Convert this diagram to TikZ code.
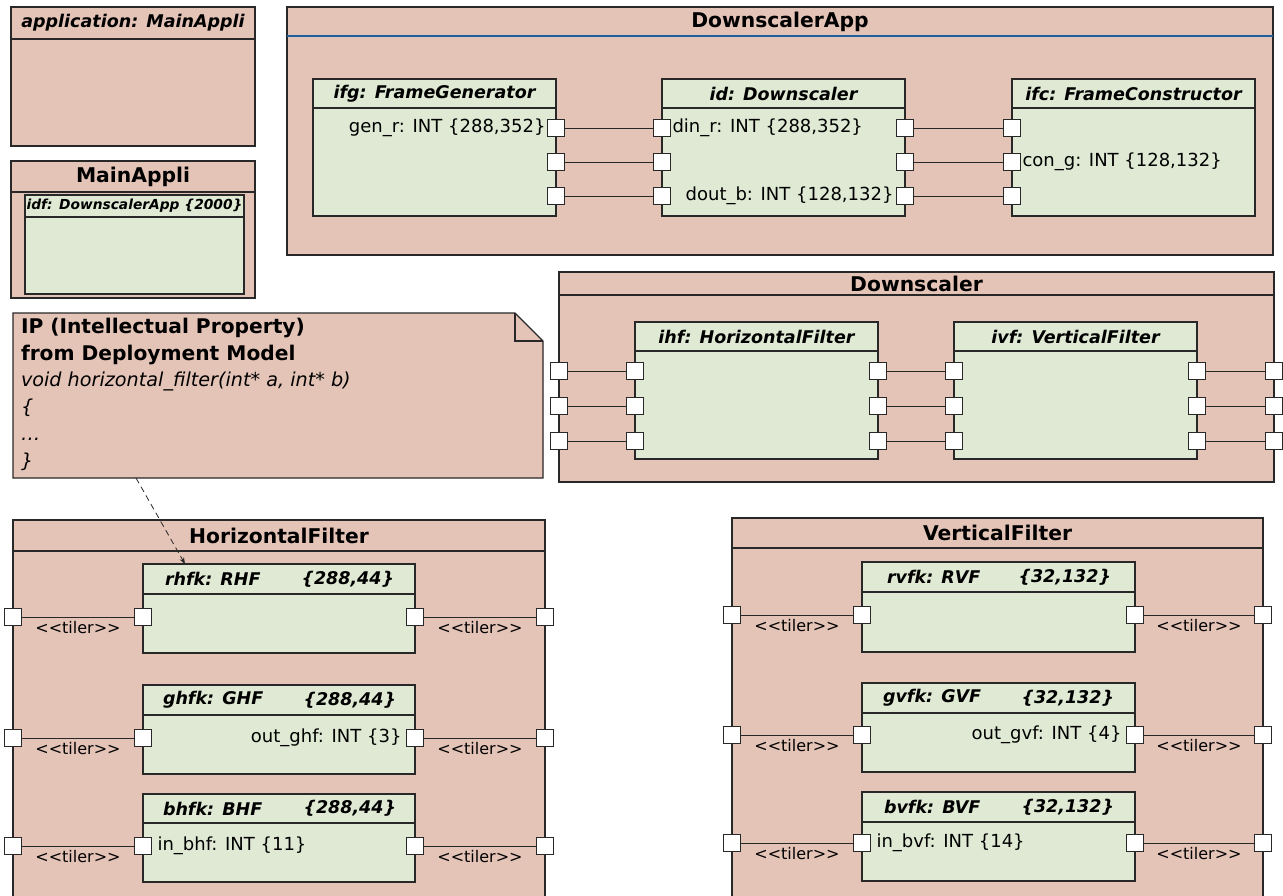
\documentclass[tikz,border=0pt]{standalone}
\usepackage{fontspec}
\setmainfont{DejaVu Sans}
\usepackage{xcolor}
\usetikzlibrary{arrows.meta,positioning}

\definecolor{framepink}{RGB}{229,196,184}
\definecolor{partgreen}{RGB}{223,233,211}
\definecolor{sepblue}{RGB}{30,95,160}
\definecolor{edgegray}{RGB}{40,40,40}
\newcommand{\tilerlbl}{<\kern0pt<tiler>\kern0pt>}

\begin{document}
\begin{tikzpicture}[
    x=1pt, y=-1pt,
    >=Stealth,
    every node/.style={inner sep=0pt, outer sep=0pt, font=\fontsize{18}{22}\selectfont},
    framebox/.style={draw=edgegray, fill=framepink, line width=1.1pt},
    partbox/.style={draw=edgegray, fill=partgreen, line width=1.1pt},
    portsq/.style={draw=edgegray, fill=white, line width=1pt, minimum size=17pt},
    wire/.style={draw=edgegray, line width=1pt},
    ttl/.style={font=\fontsize{20.3}{24}\selectfont\bfseries},
    hdr/.style={font=\fontsize{17.5}{21}\selectfont\bfseries\itshape},
    tiler/.style={font=\fontsize{16}{19}\selectfont, below=4pt}
]
\useasboundingbox (0,0) rectangle (1283,895);
\clip (0,0) rectangle (1283,895);

% application and MainAppli
\node[framebox, hdr, anchor=north west, minimum width=244pt, minimum height=32pt] (apphd)
at (11,7) {application: MainAppli};
\node[framebox, minimum width=244pt, minimum height=107pt, below=0pt of apphd] (app) {};

\node[framebox, ttl, anchor=north west, minimum width=244pt, minimum height=31pt] (mainhd)
at (11,161) {MainAppli};
\node[framebox, minimum width=244pt, minimum height=106pt, below=0pt of mainhd] (main) {};
\node[partbox, font=\fontsize{13.8}{16}\selectfont\bfseries\itshape, below right=3pt and 14pt of mainhd.south west,
minimum width=219pt, minimum height=22pt] (idfhd) {idf: DownscalerApp \{2000\}};
\node[partbox, minimum width=219pt, minimum height=77pt, below=0pt of idfhd] (idf) {};

% DownscalerApp
\node[framebox, ttl, anchor=north west, minimum width=986pt, minimum height=29pt] (dsahd)
at (287,7) {DownscalerApp};
\node[framebox, minimum width=986pt, minimum height=219pt, below=0pt of dsahd] (dsa) {};
\draw[sepblue, line width=1.1pt] (dsahd.south west) -- (dsahd.south east);

\node[partbox, hdr, anchor=north west, minimum width=243pt, minimum height=29pt] (ifghd)
at (313,79) {ifg: FrameGenerator};
\node[partbox, minimum width=243pt, minimum height=108pt, below=0pt of ifghd] (ifg) {};
\node[partbox, hdr, anchor=north west, minimum width=243pt, minimum height=29pt] (idhd)
at (662,79) {id: Downscaler};
\node[partbox, minimum width=243pt, minimum height=108pt, below=0pt of idhd] (id) {};
\node[partbox, hdr, anchor=north west, minimum width=243pt, minimum height=29pt] (ifchd)
at (1012,79) {ifc: FrameConstructor};
\node[partbox, minimum width=243pt, minimum height=108pt, below=0pt of ifchd] (ifc) {};

\coordinate (ra) at (0,128);
\coordinate (rb) at (0,162);
\coordinate (rc) at (0,196);

\node[portsq] (ifga) at (ifg.east |- ra) {};
\node[portsq] (ifgb) at (ifg.east |- rb) {};
\node[portsq] (ifgc) at (ifg.east |- rc) {};
\node[portsq] (idla) at (id.west |- ra) {};
\node[portsq] (idlb) at (id.west |- rb) {};
\node[portsq] (idlc) at (id.west |- rc) {};
\node[portsq] (idra) at (id.east |- ra) {};
\node[portsq] (idrb) at (id.east |- rb) {};
\node[portsq] (idrc) at (id.east |- rc) {};
\node[portsq] (ifca) at (ifc.west |- ra) {};
\node[portsq] (ifcb) at (ifc.west |- rb) {};
\node[portsq] (ifcc) at (ifc.west |- rc) {};

\draw[wire] (ifga) -- (idla);
\draw[wire] (ifgb) -- (idlb);
\draw[wire] (ifgc) -- (idlc);
\draw[wire] (idra) -- (ifca);
\draw[wire] (idrb) -- (ifcb);
\draw[wire] (idrc) -- (ifcc);

\node[left=2pt of ifga] (genr) {gen\_r: INT \{288,352\}};
\node[right=2pt of idla] (dinr) {din\_r: INT \{288,352\}};
\node[left=3pt of idrc] (doutb) {dout\_b: INT \{128,132\}};
\node[right=2pt of ifcb] (cong) {con\_g: INT \{128,132\}};

% Downscaler
\node[framebox, ttl, anchor=north west, minimum width=715pt, minimum height=23pt] (dschd)
at (559,272) {Downscaler};
\node[framebox, minimum width=715pt, minimum height=187pt, below=0pt of dschd] (dsc) {};

\node[partbox, hdr, anchor=north west, minimum width=243pt, minimum height=29pt] (ihfhd)
at (635,322) {ihf: HorizontalFilter};
\node[partbox, minimum width=243pt, minimum height=108pt, below=0pt of ihfhd] (ihf) {};
\node[partbox, hdr, anchor=north west, minimum width=243pt, minimum height=29pt] (ivfhd)
at (954,322) {ivf: VerticalFilter};
\node[partbox, minimum width=243pt, minimum height=108pt, below=0pt of ivfhd] (ivf) {};

\coordinate (sa) at (0,371);
\coordinate (sb) at (0,406);
\coordinate (sc) at (0,441);

\node[portsq] (dsca) at (dsc.west |- sa) {};
\node[portsq] (dscb) at (dsc.west |- sb) {};
\node[portsq] (dscc) at (dsc.west |- sc) {};
\node[portsq] (ihfla) at (ihf.west |- sa) {};
\node[portsq] (ihflb) at (ihf.west |- sb) {};
\node[portsq] (ihflc) at (ihf.west |- sc) {};
\node[portsq] (ihfra) at (ihf.east |- sa) {};
\node[portsq] (ihfrb) at (ihf.east |- sb) {};
\node[portsq] (ihfrc) at (ihf.east |- sc) {};
\node[portsq] (ivfla) at (ivf.west |- sa) {};
\node[portsq] (ivflb) at (ivf.west |- sb) {};
\node[portsq] (ivflc) at (ivf.west |- sc) {};
\node[portsq] (ivfra) at (ivf.east |- sa) {};
\node[portsq] (ivfrb) at (ivf.east |- sb) {};
\node[portsq] (ivfrc) at (ivf.east |- sc) {};
\node[portsq] (dscra) at (dsc.east |- sa) {};
\node[portsq] (dscrb) at (dsc.east |- sb) {};
\node[portsq] (dscrc) at (dsc.east |- sc) {};

\draw[wire] (dsca) -- (ihfla);
\draw[wire] (dscb) -- (ihflb);
\draw[wire] (dscc) -- (ihflc);
\draw[wire] (ihfra) -- (ivfla);
\draw[wire] (ihfrb) -- (ivflb);
\draw[wire] (ihfrc) -- (ivflc);
\draw[wire] (ivfra) -- (dscra);
\draw[wire] (ivfrb) -- (dscrb);
\draw[wire] (ivfrc) -- (dscrc);

% IP note
\node[anchor=north west, minimum width=530pt, minimum height=165pt] (note) at (13,313) {};
\draw[framebox] (note.north west) -- ([xshift=-28pt]note.north east)
  -- ([yshift=-28pt]note.north east) -- (note.south east) -- (note.south west) -- cycle;
\draw[edgegray, line width=1.1pt] ([xshift=-28pt]note.north east) |- ([yshift=-28pt]note.north east);
\node[align=left, font=\fontsize{19.2}{26.8}\selectfont, below right=5pt and 8pt of note.north west] (notetxt)
{{\fontsize{20.2}{26.8}\selectfont\bfseries IP (Intellectual Property)}\\
{\fontsize{20.2}{26.8}\selectfont\bfseries from Deployment Model}\\
\textit{void horizontal\_filter(int* a, int* b)}\\
\textit{\{}\\
\textit{\ldots}\\
\textit{\}}};

% HorizontalFilter
\node[framebox, ttl, anchor=north west, minimum width=532pt, minimum height=31pt] (hfhd)
at (13,520) {HorizontalFilter};
\node[framebox, minimum width=532pt, minimum height=390pt, below=0pt of hfhd] (hf) {};

\node[partbox, anchor=north west, minimum width=272pt, minimum height=30pt] (rhfkhd) at (143,564) {};
\node[partbox, minimum width=272pt, minimum height=59pt, below=0pt of rhfkhd] (rhfk) {};
\node[partbox, anchor=north west, minimum width=272pt, minimum height=30pt] (ghfkhd) at (143,685) {};
\node[partbox, minimum width=272pt, minimum height=59pt, below=0pt of ghfkhd] (ghfk) {};
\node[partbox, anchor=north west, minimum width=272pt, minimum height=29pt] (bhfkhd) at (143,794) {};
\node[partbox, minimum width=272pt, minimum height=59pt, below=0pt of bhfkhd] (bhfk) {};

\node[hdr, right=22pt of rhfkhd.west] (rhfkname) {rhfk: RHF};
\node[hdr, left=21pt of rhfkhd.east] (rhfksize) {\{288,44\}};
\node[hdr, right=20pt of ghfkhd.west] (ghfkname) {ghfk: GHF};
\node[hdr, left=19pt of ghfkhd.east] (ghfksize) {\{288,44\}};
\node[hdr, right=20pt of bhfkhd.west] (bhfkname) {bhfk: BHF};
\node[hdr, left=19pt of bhfkhd.east] (bhfksize) {\{288,44\}};

\coordinate (ha) at (0,617);
\coordinate (hb) at (0,738);
\coordinate (hc) at (0,846);

\node[portsq] (hfla) at (hf.west |- ha) {};
\node[portsq] (hflb) at (hf.west |- hb) {};
\node[portsq] (hflc) at (hf.west |- hc) {};
\node[portsq] (rhfkl) at (rhfk.west |- ha) {};
\node[portsq] (ghfkl) at (ghfk.west |- hb) {};
\node[portsq] (bhfkl) at (bhfk.west |- hc) {};
\node[portsq] (rhfkr) at (rhfk.east |- ha) {};
\node[portsq] (ghfkr) at (ghfk.east |- hb) {};
\node[portsq] (bhfkr) at (bhfk.east |- hc) {};
\node[portsq] (hfra) at (hf.east |- ha) {};
\node[portsq] (hfrb) at (hf.east |- hb) {};
\node[portsq] (hfrc) at (hf.east |- hc) {};

\draw[wire] (hfla) -- node[tiler] (tlhla) {\tilerlbl} (rhfkl);
\draw[wire] (hflb) -- node[tiler] (tlhlb) {\tilerlbl} (ghfkl);
\draw[wire] (hflc) -- node[tiler] (tlhlc) {\tilerlbl} (bhfkl);
\draw[wire] (rhfkr) -- node[tiler] (tlhra) {\tilerlbl} (hfra);
\draw[wire] (ghfkr) -- node[tiler] (tlhrb) {\tilerlbl} (hfrb);
\draw[wire] (bhfkr) -- node[tiler] (tlhrc) {\tilerlbl} (hfrc);

\node[left=5pt of ghfkr] (outghf) {out\_ghf: INT \{3\}};
\node[right=6pt of bhfkl] (inbhf) {in\_bhf: INT \{11\}};

% IP note -> rhfk
\draw[->, edgegray, line width=0.8pt, dash pattern=on 6pt off 4pt] ([xshift=123pt]note.south west)
  -- ([xshift=42pt]rhfkhd.north west);

% VerticalFilter
\node[framebox, ttl, anchor=north west, minimum width=531pt, minimum height=30pt] (vfhd)
at (732,518) {VerticalFilter};
\node[framebox, minimum width=531pt, minimum height=390pt, below=0pt of vfhd] (vf) {};

\node[partbox, anchor=north west, minimum width=273pt, minimum height=30pt] (rvfkhd) at (862,562) {};
\node[partbox, minimum width=273pt, minimum height=60pt, below=0pt of rvfkhd] (rvfk) {};
\node[partbox, anchor=north west, minimum width=273pt, minimum height=30pt] (gvfkhd) at (862,683) {};
\node[partbox, minimum width=273pt, minimum height=59pt, below=0pt of gvfkhd] (gvfk) {};
\node[partbox, anchor=north west, minimum width=273pt, minimum height=30pt] (bvfkhd) at (862,792) {};
\node[partbox, minimum width=273pt, minimum height=59pt, below=0pt of bvfkhd] (bvfk) {};

\node[hdr, right=25pt of rvfkhd.west] (rvfkname) {rvfk: RVF};
\node[hdr, left=24pt of rvfkhd.east] (rvfksize) {\{32,132\}};
\node[hdr, right=21pt of gvfkhd.west] (gvfkname) {gvfk: GVF};
\node[hdr, left=21pt of gvfkhd.east] (gvfksize) {\{32,132\}};
\node[hdr, right=22pt of bvfkhd.west] (bvfkname) {bvfk: BVF};
\node[hdr, left=21pt of bvfkhd.east] (bvfksize) {\{32,132\}};

\coordinate (va) at (0,615);
\coordinate (vb) at (0,735);
\coordinate (vc) at (0,843);

\node[portsq] (vfla) at (vf.west |- va) {};
\node[portsq] (vflb) at (vf.west |- vb) {};
\node[portsq] (vflc) at (vf.west |- vc) {};
\node[portsq] (rvfkl) at (rvfk.west |- va) {};
\node[portsq] (gvfkl) at (gvfk.west |- vb) {};
\node[portsq] (bvfkl) at (bvfk.west |- vc) {};
\node[portsq] (rvfkr) at (rvfk.east |- va) {};
\node[portsq] (gvfkr) at (gvfk.east |- vb) {};
\node[portsq] (bvfkr) at (bvfk.east |- vc) {};
\node[portsq] (vfra) at (vf.east |- va) {};
\node[portsq] (vfrb) at (vf.east |- vb) {};
\node[portsq] (vfrc) at (vf.east |- vc) {};

\draw[wire] (vfla) -- node[tiler] (tlvla) {\tilerlbl} (rvfkl);
\draw[wire] (vflb) -- node[tiler] (tlvlb) {\tilerlbl} (gvfkl);
\draw[wire] (vflc) -- node[tiler] (tlvlc) {\tilerlbl} (bvfkl);
\draw[wire] (rvfkr) -- node[tiler] (tlvra) {\tilerlbl} (vfra);
\draw[wire] (gvfkr) -- node[tiler] (tlvrb) {\tilerlbl} (vfrb);
\draw[wire] (bvfkr) -- node[tiler] (tlvrc) {\tilerlbl} (vfrc);

\node[left=5pt of gvfkr] (outgvf) {out\_gvf: INT \{4\}};
\node[right=6pt of bvfkl] (inbvf) {in\_bvf: INT \{14\}};

\end{tikzpicture}
\end{document}
